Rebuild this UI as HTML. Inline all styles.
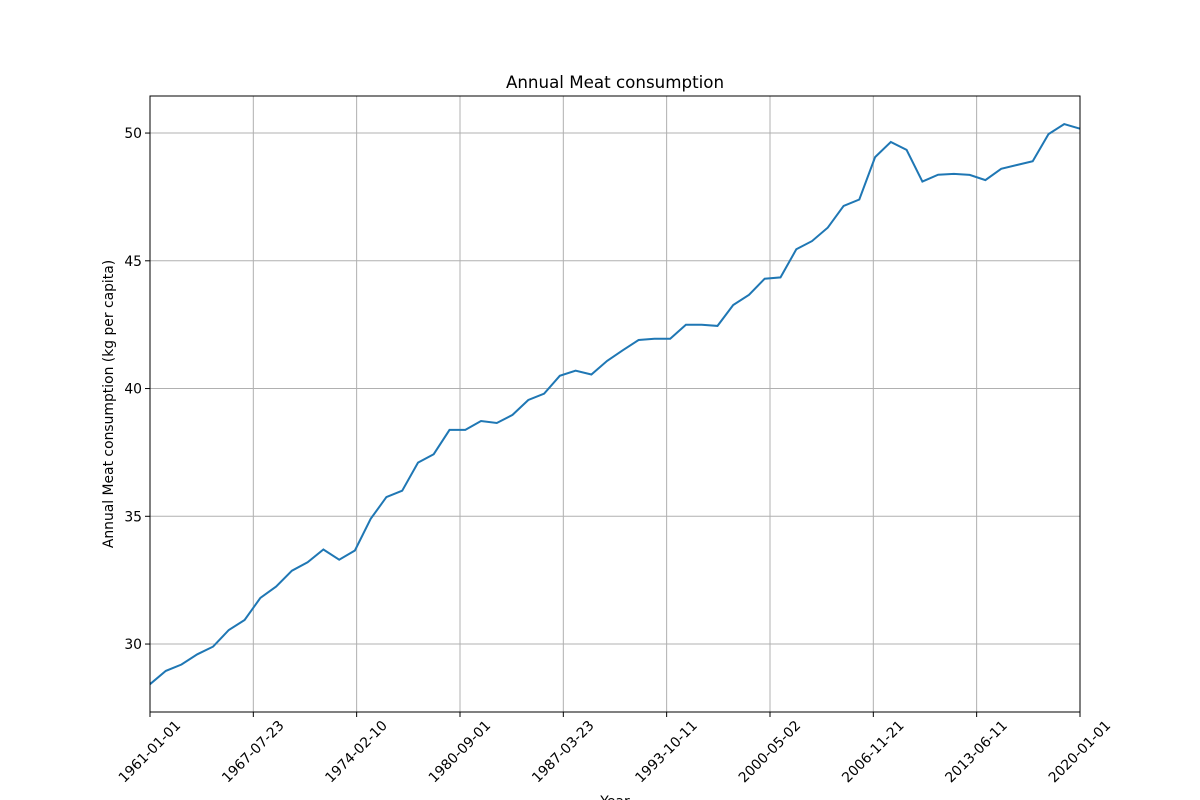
<!DOCTYPE html>
<html><head><meta charset="utf-8"><style>
body{margin:0;background:#fff;}
svg{display:block;font-family:"DejaVu Sans","Liberation Sans",sans-serif;}
</style></head><body>
<svg id="chart" width="1200" height="800" viewBox="0 0 1200 800">
<text x="615" y="88" text-anchor="middle" font-size="16.7">Annual Meat consumption</text>
<g id="grid"></g>
<g id="xticks"></g>
<g id="yticks"></g>
<path id="line" fill="none" stroke="#1f77b4" stroke-width="2"/>
<rect x="150" y="96" width="930" height="616" fill="none" stroke="#000" stroke-width="1"/>
<text x="615" y="806" text-anchor="middle" font-size="13.9">Year</text>
<text transform="translate(113,404) rotate(-90)" text-anchor="middle" font-size="13.9">Annual Meat consumption (kg per capita)</text>
</svg>
<script>
const startYear = 1961;
const values = [28.43,28.95,29.2,29.6,29.9,30.55,30.94,31.8,32.25,32.87,33.2,33.7,33.3,33.66,34.9,35.75,36.0,37.1,37.43,38.38,38.38,38.73,38.65,38.97,39.55,39.8,40.5,40.7,40.55,41.08,41.5,41.9,41.95,41.95,42.5,42.5,42.45,43.27,43.67,44.3,44.35,45.45,45.77,46.3,47.15,47.4,49.06,49.65,49.34,48.1,48.37,48.4,48.36,48.16,48.6,48.75,48.9,49.96,50.35,50.17];
const xTickLabels = ["1961-01-01","1967-07-23","1974-02-10","1980-09-01","1987-03-23","1993-10-11","2000-05-02","2006-11-21","2013-06-11","2020-01-01"];
const yTicks = [30,35,40,45,50];

const X0=150,X1=1080,Y0=96,Y1=712;
const tMin=Date.UTC(1961,0,1), tMax=Date.UTC(2020,0,1);
const yMin=27.34, yMax=51.45;
const xs=t=>X0+(t-tMin)/(tMax-tMin)*(X1-X0);
const ys=v=>Y1-(v-yMin)/(yMax-yMin)*(Y1-Y0);
const NS="http://www.w3.org/2000/svg";
const grid=document.getElementById('grid'), xt=document.getElementById('xticks'), yt=document.getElementById('yticks');
function mk(tag,attrs,parent){const e=document.createElementNS(NS,tag);for(const k in attrs)e.setAttribute(k,attrs[k]);parent.appendChild(e);return e;}
xTickLabels.forEach(s=>{
  const p=s.split('-').map(Number);const x=xs(Date.UTC(p[0],p[1]-1,p[2]));
  const g=mk('line',{x1:x,x2:x,y1:Y0,y2:Y1,stroke:'#b0b0b0','stroke-width':1},grid);
  
  
  const tk=mk('line',{x1:x,x2:x,y1:Y1,y2:Y1+5,stroke:'#000'},xt);
  
  
  const t=mk('text',{transform:`translate(${x},752) rotate(-45)`,'text-anchor':'middle','font-size':13.9,'dominant-baseline':'middle'},xt);
  t.textContent=s;
  
  
});
yTicks.forEach(v=>{
  const y=ys(v);
  const g=mk('line',{x1:X0,x2:X1,y1:y,y2:y,stroke:'#b0b0b0','stroke-width':1},grid);
  
  
  const tk=mk('line',{x1:X0-5,x2:X0,y1:y,y2:y,stroke:'#000'},yt);
  
  
  const t=mk('text',{x:X0-8,y:y+5,'text-anchor':'end','font-size':13.9},yt);
  t.textContent=v;
  
  
});
document.getElementById('line').setAttribute('d',values.map((v,i)=>(i?'L':'M')+xs(Date.UTC(startYear+i,0,1)).toFixed(1)+','+ys(v).toFixed(1)).join(''));
</script>
</body></html>
